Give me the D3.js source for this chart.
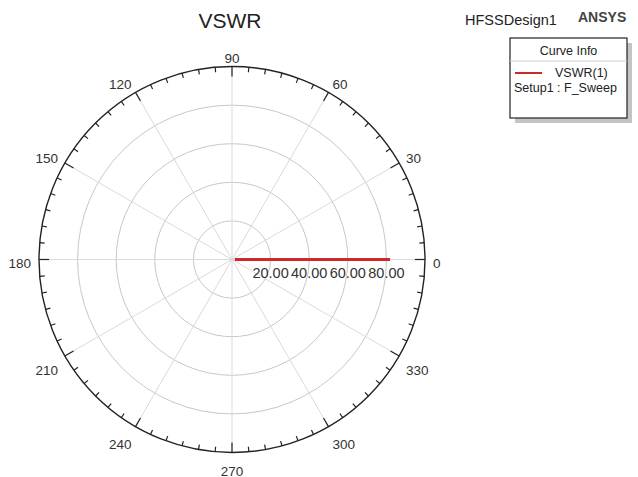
<!DOCTYPE html>
<html>
<head>
<meta charset="utf-8">
<script src="https://cdn.jsdelivr.net/npm/d3@7"></script>
<style>
  html, body { margin: 0; padding: 0; background: #fff; }
  svg { display: block; }
  text { font-family: "Liberation Sans", Arial, sans-serif; }
</style>
</head>
<body>
<svg id="chart" width="638" height="477"></svg>
<script>
// ---- data ----
const title = "VSWR";
const designName = "HFSSDesign1";
const brand = "ANSYS";
const legendTitle = "Curve Info";
const seriesName = "VSWR(1)";
const seriesSetup = "Setup1 : F_Sweep";
const angleLabels = [0, 30, 60, 90, 120, 150, 180, 210, 240, 270, 300, 330];
const radialTicks = [20, 40, 60, 80];
const radialTickLabels = ["20.00", "40.00", "60.00", "80.00"];
const radialMax = 100;
// VSWR sweep (all real valued -> plotted at angle 0)
const vswrAngle = [0, 0, 0, 0, 0, 0, 0, 0, 0, 0, 0];
const vswrValues = [81.9, 62.4, 38.7, 17.2, 5.6, 1.5, 3.9, 13.1, 31.6, 56.2, 79.8];

// ---- layout ----
const svg = d3.select("#chart");
const cx = 232, cy = 259.5, R = 193;
const r = d3.scaleLinear().domain([0, radialMax]).range([0, R]);
const toRad = d => d * Math.PI / 180;
const px = (deg, rr) => cx + rr * Math.cos(toRad(deg));
const py = (deg, rr) => cy - rr * Math.sin(toRad(deg));

const g = svg.append("g");

// grid rings
g.selectAll("circle.ring").data(radialTicks).join("circle")
  .attr("cx", cx).attr("cy", cy).attr("r", d => r(d))
  .attr("fill", "none").attr("stroke", "#c8c8c8").attr("stroke-width", 1);

// spokes
const spokes = d3.range(0, 360, 30);
g.selectAll("line.spoke").data(spokes).join("line")
  .attr("x1", cx).attr("y1", cy)
  .attr("x2", d => px(d, R)).attr("y2", d => py(d, R))
  .attr("stroke", "#dadada").attr("stroke-width", 1);

// outer circle
g.append("circle").attr("cx", cx).attr("cy", cy).attr("r", R)
  .attr("fill", "none").attr("stroke", "#222").attr("stroke-width", 1.4);

// ticks
const ticks = d3.range(0, 360, 5);
g.selectAll("line.tick").data(ticks).join("line")
  .attr("x1", d => px(d, R)).attr("y1", d => py(d, R))
  .attr("x2", d => px(d, R - (d % 30 === 0 ? 10 : 5)))
  .attr("y2", d => py(d, R - (d % 30 === 0 ? 10 : 5)))
  .attr("stroke", "#222").attr("stroke-width", 1.2);

// angle labels
g.selectAll("text.ang").data(angleLabels).join("text")
  .attr("x", d => px(d, R + 8))
  .attr("y", d => {
    const s = Math.sin(toRad(d));
    const base = py(d, R + 8);
    if (s > 0.01) return base + 4;
    if (s < -0.01) return base + 15;
    return base + 8;
  })
  .attr("text-anchor", d => {
    const c = Math.cos(toRad(d));
    return c > 0.01 ? "start" : (c < -0.01 ? "end" : "middle");
  })
  .attr("font-size", 13.5).attr("fill", "#333")
  .text(d => d);

// VSWR curve
const line = d3.lineRadial()
  .angle((d, i) => Math.PI / 2 - toRad(vswrAngle[i]))
  .radius(d => r(d));
g.append("path")
  .datum(vswrValues)
  .attr("transform", `translate(${cx},${cy})`)
  .attr("d", line)
  .attr("fill", "none").attr("stroke", "#cc2a2a").attr("stroke-width", 3);

// radial labels
g.selectAll("text.rl").data(radialTicks).join("text")
  .attr("x", d => cx + r(d)).attr("y", cy + 18)
  .attr("text-anchor", "middle")
  .attr("font-size", 14.5).attr("fill", "#333")
  .text((d, i) => radialTickLabels[i]);

// title
svg.append("text").attr("x", 230).attr("y", 28)
  .attr("text-anchor", "middle").attr("font-size", 21).attr("fill", "#222")
  .text(title);

// design name & brand
svg.append("text").attr("x", 465).attr("y", 25)
  .attr("font-size", 14.5).attr("fill", "#222").text(designName);
svg.append("text").attr("x", 578).attr("y", 22)
  .attr("font-size", 14).attr("font-weight", "bold").attr("fill", "#444").text(brand);

// legend
const lx = 510, ly = 38, lw = 117, lh = 80;
svg.append("rect").attr("x", lx + 5).attr("y", ly + 5).attr("width", lw).attr("height", lh)
  .attr("fill", "#c4c4c4");
svg.append("rect").attr("x", lx).attr("y", ly).attr("width", lw).attr("height", lh)
  .attr("fill", "#fff").attr("stroke", "#222").attr("stroke-width", 1.2);
svg.append("text").attr("x", lx + lw / 2).attr("y", ly + 17)
  .attr("text-anchor", "middle").attr("font-size", 12.5).attr("fill", "#222").text(legendTitle);
svg.append("line").attr("x1", lx).attr("x2", lx + lw).attr("y1", ly + 23).attr("y2", ly + 23)
  .attr("stroke", "#d0d0d0");
svg.append("line").attr("x1", lx + 5).attr("x2", lx + 32).attr("y1", ly + 35).attr("y2", ly + 35)
  .attr("stroke", "#cc2a2a").attr("stroke-width", 2);
svg.append("text").attr("x", lx + 45).attr("y", ly + 39)
  .attr("font-size", 12.5).attr("fill", "#222").text(seriesName);
svg.append("text").attr("x", lx + 4).attr("y", ly + 54)
  .attr("font-size", 12.5).attr("fill", "#222").text(seriesSetup);
</script>
</body>
</html>
